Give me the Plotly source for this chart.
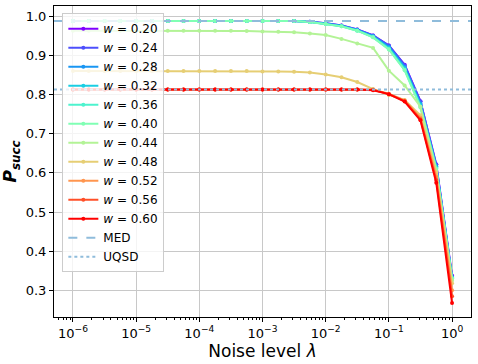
import plotly.graph_objects as go

# noise level exponents (lambda = 10**exp), 0.25 decade steps
lam_exp = [-6, -5.75, -5.5, -5.25, -5, -4.75, -4.5, -4.25, -4, -3.75, -3.5, -3.25,
           -3, -2.75, -2.5, -2.25, -2, -1.75, -1.5, -1.25, -1, -0.75, -0.5, -0.25, 0]

w_labels = ["0.20", "0.24", "0.28", "0.32", "0.36", "0.40", "0.44", "0.48", "0.52", "0.56", "0.60"]

p_020 = [0.988]*15 + [0.986, 0.982, 0.976, 0.966, 0.951, 0.925, 0.876, 0.783, 0.622, 0.338]
p_024 = [0.988]*15 + [0.986, 0.982, 0.976, 0.966, 0.951, 0.925, 0.875, 0.782, 0.621, 0.335]
p_028 = [0.988]*15 + [0.986, 0.981, 0.975, 0.965, 0.949, 0.922, 0.870, 0.777, 0.617, 0.333]
p_032 = [0.988]*15 + [0.985, 0.981, 0.975, 0.964, 0.948, 0.919, 0.867, 0.773, 0.614, 0.332]
p_036 = [0.988]*15 + [0.985, 0.980, 0.974, 0.963, 0.946, 0.916, 0.863, 0.769, 0.611, 0.331]
p_040 = [0.988]*15 + [0.985, 0.980, 0.974, 0.963, 0.946, 0.915, 0.862, 0.767, 0.610, 0.330]
p_044 = [0.963]*11 + [0.962, 0.961, 0.960, 0.959, 0.956, 0.952, 0.942, 0.930, 0.919,
                      0.861, 0.823, 0.769, 0.603, 0.325]
p_048 = [0.860]*12 + [0.859, 0.859, 0.858, 0.856, 0.851, 0.844, 0.832, 0.814,
                      0.799, 0.786, 0.747, 0.600, 0.318]
p_052 = [0.813]*19 + [0.812, 0.802, 0.785, 0.741, 0.590, 0.300]
p_056 = [0.813]*19 + [0.812, 0.801, 0.783, 0.737, 0.582, 0.285]
p_060 = [0.813]*19 + [0.811, 0.801, 0.782, 0.734, 0.575, 0.268]

med = 0.988
uqsd = 0.813

series = [p_020, p_024, p_028, p_032, p_036, p_040, p_044, p_048, p_052, p_056, p_060]
# matplotlib "rainbow" colormap sampled at 11 points
colors = ["#8000ff", "#4d4ffc", "#1996f3", "#1acee3", "#4df3ce", "#80ffb4",
          "#b3f396", "#e6ce74", "#ff964f", "#ff4f28", "#ff0000"]

lam = [10 ** e for e in lam_exp]

fig = go.Figure()
for lbl, ys, c in zip(w_labels, series, colors):
    fig.add_trace(go.Scatter(
        x=lam, y=ys, mode="lines+markers", name="<i>w</i> = " + lbl,
        line=dict(color=c, width=2), marker=dict(color=c, size=4)
    ))

# horizontal reference lines (axhline-like) + legend entries
fig.add_hline(y=med, line=dict(color="#8fbcdb", width=2, dash="dash"), layer="above")
fig.add_hline(y=uqsd, line=dict(color="#8fbcdb", width=2, dash="dot"), layer="above")
fig.add_trace(go.Scatter(x=[None], y=[None], mode="lines", name="MED",
                         line=dict(color="#8fbcdb", width=2, dash="dash")))
fig.add_trace(go.Scatter(x=[None], y=[None], mode="lines", name="UQSD",
                         line=dict(color="#8fbcdb", width=2, dash="dot")))

major = [1e-6, 1e-5, 1e-4, 1e-3, 1e-2, 1e-1, 1]
minor = [m * 10 ** k for k in range(-7, 1) for m in range(2, 10)]

fig.update_layout(
    width=478, height=364,
    margin=dict(l=54, r=7, t=6, b=47),
    plot_bgcolor="white", paper_bgcolor="white",
    font=dict(family="DejaVu Sans", size=13, color="black"),
    legend=dict(x=0.02, y=0.977, xanchor="left", yanchor="top",
                bgcolor="rgba(255,255,255,0.8)", bordercolor="#cccccc", borderwidth=1,
                font=dict(size=12), tracegroupgap=0, itemwidth=30),
    xaxis=dict(
        type="log", range=[-6.3, 0.3],
        tickvals=major,
        ticktext=["10<sup>−6</sup>", "10<sup>−5</sup>", "10<sup>−4</sup>", "10<sup>−3</sup>",
                  "10<sup>−2</sup>", "10<sup>−1</sup>", "10<sup>0</sup>"],
        showgrid=True, gridcolor="#c8c8c8", gridwidth=1,
        showline=True, linecolor="black", linewidth=1, mirror=True,
        ticks="outside", ticklen=4, tickcolor="black",
        minor=dict(tickvals=minor, ticks="outside", ticklen=2, tickcolor="black", showgrid=False),
        title=dict(text="Noise level <i>λ</i>", font=dict(size=17), standoff=4),
        zeroline=False,
    ),
    yaxis=dict(
        range=[0.232, 1.026],
        tickvals=[0.3, 0.4, 0.5, 0.6, 0.7, 0.8, 0.9, 1.0],
        ticktext=["0.3", "0.4", "0.5", "0.6", "0.7", "0.8", "0.9", "1.0"],
        showgrid=True, gridcolor="#c8c8c8", gridwidth=1,
        showline=True, linecolor="black", linewidth=1, mirror=True,
        ticks="outside", ticklen=4, tickcolor="black",
        title=dict(text="<b><i>P</i><sub><i>succ</i></sub></b>", font=dict(size=17), standoff=4),
        zeroline=False,
    ),
)

# drop the default 8px page margin so the figure sits at the window corner
fig.write_html("out.html", config={"displayModeBar": False},
               post_script="document.body.style.margin='0';")
